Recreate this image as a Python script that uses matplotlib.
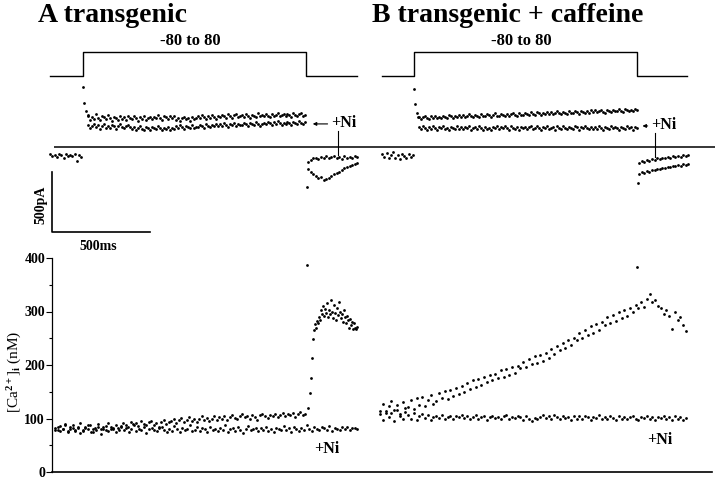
import numpy as np
import matplotlib.pyplot as plt

plt.rcParams['font.family'] = ['Liberation Serif', 'DejaVu Serif']
plt.rcParams['font.weight'] = 'bold'
plt.rcParams['mathtext.fontset'] = 'custom'
plt.rcParams['mathtext.rm'] = 'Liberation Serif'
plt.rcParams['mathtext.it'] = 'Liberation Serif:italic'

# time base shared by all traces (ms); panel B sits to the right of panel A
MS_PER_PX = 500 / 98
PULSE_MS = 1140
B_OFFSET = 1689
SCALE_MS = 500
SCALE_PA = 500

# voltage protocol (mV)
v_levels = [-80, -80, 80, 80, -80, -80]
v_times_a = [-168, 0, 0, PULSE_MS, PULSE_MS, 1398]
v_times_b = [-163, 0, 0, PULSE_MS, PULSE_MS, 1393]

# membrane current (pA), panel A
pre_a = [-58, -75, -66, -83, -62, -71, -88, -55, -79, -67, -74, -62, -117, -70, -80]
onset_t_a = [2, 7, 14, 24]
onset_a = [500, 367, 300, 267]
ctrl_a = [262, 228, 250, 236, 271, 241, 224, 258, 246, 232, 265,
          238, 219, 252, 244, 226, 261, 235, 248, 222, 255, 241,
          230, 257, 244, 218, 249, 236, 262, 227, 240, 253, 233,
          251, 239, 266, 244, 228, 258, 247, 233, 262, 242, 256,
          226, 244, 218, 238, 252, 229, 241, 215, 247, 233, 239,
          255, 238, 266, 249, 232, 260, 244, 270, 251, 237, 258,
          247, 268, 254, 240, 272, 258, 245, 263, 276, 251, 260,
          266, 249, 274, 257, 243, 270, 261, 252, 279, 256, 264,
          255, 271, 262, 248, 277, 259, 268, 283, 254, 265, 272,
          258, 274, 263, 250, 279, 266, 255, 271, 284, 260, 268]
ni_a = [185, 158, 176, 193, 164, 180, 150, 171, 188, 162, 178,
        160, 182, 171, 148, 177, 190, 163, 155, 174, 184, 166,
        150, 168, 142, 161, 175, 153, 145, 164, 158, 139, 170,
        162, 148, 171, 154, 138, 160, 150, 167, 145, 158, 152,
        172, 158, 180, 163, 150, 176, 167, 155, 185, 160, 170,
        168, 186, 174, 160, 190, 178, 165, 182, 171, 194, 176,
        190, 175, 198, 184, 170, 193, 181, 200, 176, 188, 185,
        180, 196, 188, 174, 202, 190, 183, 207, 192, 178, 195,
        203, 188, 210, 196, 182, 205, 193, 214, 199, 186, 201,
        192, 208, 197, 185, 212, 200, 190, 216, 203, 194, 206]
tail_ni_a = [-125, -108, -96, -88, -100, -83, -92, -79, -95, -85,
             -72, -90, -80, -98, -76, -88, -82, -94, -75, -86]
tail_ctrl_a = [-180, -205, -228, -240, -262, -250, -275, -268, -255, -240,
               -228, -215, -205, -190, -178, -170, -158, -150, -142, -135]
tail_peak_a = -333

# membrane current (pA), panel B
pre_b = [-60, -85, -52, -95, -70, -45, -88, -65, -100, -58, -78, -92, -55, -80, -68]
onset_t_b = [2, 7, 14, 22]
onset_b = [483, 358, 283, 250]
ctrl_b = [252, 236, 248, 262, 240, 230, 255, 244, 258, 238, 249,
          245, 262, 250, 238, 266, 254, 243, 259, 248, 270, 253,
          266, 250, 262, 275, 255, 246, 268, 258, 252, 272, 260,
          258, 276, 263, 250, 270, 280, 261, 255, 274, 266, 259,
          278, 262, 273, 286, 266, 258, 281, 270, 264, 284, 272,
          270, 288, 276, 264, 290, 279, 268, 284, 274, 292, 278,
          291, 276, 286, 298, 279, 272, 294, 284, 277, 297, 285,
          284, 300, 289, 278, 303, 292, 282, 298, 287, 306, 291,
          305, 290, 300, 312, 293, 286, 308, 297, 291, 311, 299,
          298, 314, 303, 292, 318, 306, 296, 312, 301, 320, 308]
ni_b = [165, 148, 172, 156, 140, 168, 152, 176, 160, 145, 170,
        155, 174, 150, 162, 138, 167, 158, 146, 178, 153, 164,
        148, 166, 157, 172, 144, 160, 169, 151, 175, 158, 142,
        170, 153, 162, 141, 168, 156, 177, 149, 163, 155, 172,
        158, 145, 174, 161, 150, 167, 143, 170, 157, 165, 152,
        163, 176, 148, 159, 171, 154, 139, 166, 160, 175, 150,
        155, 168, 145, 172, 160, 151, 178, 157, 147, 169, 162,
        149, 171, 163, 140, 166, 155, 174, 158, 146, 170, 153,
        167, 152, 176, 161, 143, 169, 157, 148, 173, 159, 165,
        156, 144, 170, 162, 151, 177, 154, 166, 141, 168, 160]
tail_ni_b = [-130, -118, -125, -110, -115, -102, -108, -95, -100, -88,
             -96, -82, -90, -78, -85, -72, -80, -70, -76, -66]
tail_ctrl_b = [-225, -210, -218, -200, -205, -190, -196, -180, -186, -172,
               -178, -165, -170, -158, -162, -150, -155, -142, -148, -138]
tail_peak_b = -300

# [Ca2+]i (nM), panel A
ca_ctrl_a = [82, 78, 86, 80, 90, 76, 84, 88, 79, 83, 92, 77, 85, 81, 87, 74, 83, 89, 80, 85,
             78, 91, 84, 80, 87, 83,
             86, 92, 88, 84, 94, 89, 91, 86, 95, 90, 87, 93, 96, 88, 91, 85, 94, 98, 90, 93,
             95, 99, 92, 97, 101, 94, 98, 103, 96, 100, 93, 99, 104, 97, 101, 95, 100, 105, 98, 102,
             100, 104, 97, 103, 106, 101, 99, 105, 108, 102, 104, 100, 107, 103, 98, 106, 109, 104, 101, 107,
             105, 109, 103, 107, 111, 104, 108, 106, 110, 103, 108, 112, 106, 109]
ca_ni_a = [79, 84, 76, 81, 87, 74, 80, 83, 77, 85, 72, 79, 82, 88, 75, 80, 78, 84, 71, 81,
           86, 77, 80, 83, 75, 79, 85, 78, 82, 74, 80, 87, 76, 81, 79, 84, 73, 80, 83, 78,
           76, 82, 85, 79, 74, 81, 77, 86, 80, 75, 83, 78, 81, 88, 76, 79, 84, 77, 82, 80,
           74, 85, 78, 81, 76, 83, 79, 87, 75, 80, 82, 77, 84, 79, 73, 81, 86, 78, 80, 83,
           76, 82, 79, 85, 77, 81, 74, 83, 80, 78, 86, 79, 82, 75, 84, 80, 77, 83, 79, 88,
           81, 76, 84, 80, 78, 85, 82, 79, 86, 77, 83, 81, 78, 84, 80, 85, 79, 82, 83, 81]
rise_t_a = [1143, 1148, 1156, 1161, 1166, 1173, 1179, 1184, 1189, 1194, 1199, 1204, 1209, 1214,
            1219, 1224, 1230, 1235, 1240, 1245, 1250, 1255, 1260, 1265, 1270, 1276, 1281, 1286,
            1291, 1296, 1301, 1306, 1311, 1316, 1321, 1327, 1332, 1337, 1342, 1347, 1352, 1357,
            1362, 1367, 1372, 1378, 1383, 1388, 1393, 1398]
rise_a = [387, 120, 148, 175, 213, 248, 265, 276, 270, 282, 279, 290, 284, 302,
          295, 310, 292, 305, 298, 316, 289, 303, 296, 322, 300, 288, 312, 298,
          285, 306, 294, 318, 300, 288, 296, 281, 302, 290, 278, 292, 284, 270,
          286, 275, 281, 268, 279, 270, 268, 271]

# [Ca2+]i (nM), panel B
ca_ctrl_b = [114, 128, 110, 124, 132, 116, 126, 108, 130, 119,
             122, 135, 118, 138, 126, 141, 123, 134, 143, 127,
             132, 147, 138, 151, 136, 154, 142, 157, 145, 160,
             150, 166, 156, 172, 158, 174, 162, 178, 168, 182,
             172, 184, 175, 190, 178, 193, 181, 196, 185, 199,
             194, 206, 197, 212, 201, 216, 204, 219, 208, 222,
             214, 230, 220, 236, 228, 242, 232, 247, 238, 251,
             246, 260, 250, 266, 256, 272, 260, 276, 266, 281,
             274, 289, 279, 294, 283, 299, 288, 303, 292, 307,
             300, 312, 306, 318, 309, 324, 332, 318, 322, 310,
             306, 296, 302, 292, 268, 299, 284, 290, 274, 264]
ca_ni_b = [108, 97, 114, 102, 110, 95, 116, 104, 99, 112,
           106, 100, 110, 97, 104, 108, 101, 106, 98, 103,
           104, 101, 106, 99, 103, 105, 100, 104, 102, 106,
           101, 104, 99, 103, 106, 100, 102, 105, 98, 103,
           105, 101, 103, 99, 104, 106, 100, 103, 101, 105,
           102, 98, 104, 100, 96, 101, 99, 103, 106, 101,
           104, 100, 107, 102, 99, 105, 101, 103, 98, 104,
           100, 104, 99, 105, 102, 97, 103, 101, 106, 100,
           103, 99, 104, 101, 98, 105, 100, 103, 99, 102,
           104, 100, 98, 103, 101, 105, 99, 102, 97, 103,
           101, 104, 99, 102, 98, 104, 100, 103, 97, 101]
spike_t_b = 1138
spike_b = 383

dot = dict(ls='none', marker='o', ms=2.0, mew=0, color='black')

fig = plt.figure(figsize=(7.2, 4.8), dpi=100)

# full-width time range for the top traces
t_full = (-83 * MS_PER_PX, (720 - 83) * MS_PER_PX)

# voltage protocol
axv = fig.add_axes([0, 390 / 480, 1, 55 / 480])
axv.set_xlim(t_full)
axv.set_ylim(-173, 193)
axv.axis('off')
for off, vt in [(0, v_times_a), (B_OFFSET, v_times_b)]:
    axv.plot(np.array(vt) + off, v_levels, color='black', lw=1.0)
    axv.annotate('-80 to 80', (545 + off, 80), xytext=(0, 2), textcoords='offset points',
                 ha='center', va='bottom', fontsize=12)

# membrane current
axi = fig.add_axes([0, 220 / 480, 1, 180 / 480])
axi.set_xlim(t_full)
axi.set_ylim(-942, 558)
axi.axis('off')
axi.hlines(0, -148, 3224, color='black', lw=1.1)

t_pulse = np.linspace(25, 1135, len(ctrl_a))
t_tail = np.linspace(1148, 1400, len(tail_ni_a))
for off, pre, pre_t, ot, ov, c, n, tn, tc, tp in [
        (0, pre_a, (-168, -8), onset_t_a, onset_a, ctrl_a, ni_a, tail_ni_a, tail_ctrl_a, tail_peak_a),
        (B_OFFSET, pre_b, (-163, -5), onset_t_b, onset_b, ctrl_b, ni_b, tail_ni_b, tail_ctrl_b, tail_peak_b)]:
    axi.plot(np.linspace(pre_t[0], pre_t[1], len(pre)) + off, pre, **dot)
    axi.plot(np.array(ot) + off, ov, **dot)
    axi.plot(t_pulse + off, c, **dot)
    axi.plot(t_pulse + off, n, **dot)
    axi.plot(t_tail + off, tn, **dot)
    axi.plot(t_tail + off, tc, **dot)
    axi.plot([1143 + off], [tp], **dot)

# +Ni labels on the current traces
axi.annotate('', xy=(1158, 192), xytext=(1262, 192),
             arrowprops=dict(arrowstyle='-|>', color='black', lw=0.8, mutation_scale=5))
axi.text(1265, 165, '+Ni', fontsize=11.5, ha='left', va='baseline')
axi.plot([1301, 1301], [133, -67], color='black', lw=0.8)
axi.annotate('', xy=(2840, 175), xytext=(2895, 175),
             arrowprops=dict(arrowstyle='-|>', color='black', lw=0.8, mutation_scale=5))
axi.text(2898, 150, '+Ni', fontsize=11.5, ha='left', va='baseline')
axi.plot([2918, 2918], [117, -83], color='black', lw=0.8)

# scale bar
x0, y0 = -158, -708
axi.plot([x0, x0, x0 + SCALE_MS], [y0 + SCALE_PA, y0, y0], color='black', lw=1.2)
axi.text(-214, y0 + SCALE_PA * 0.45, '500pA', rotation=90, ha='center', va='center', fontsize=10)
axi.text(x0 + SCALE_MS * 0.47, y0 - 125, '500ms', ha='center', va='center', fontsize=10)

# [Ca2+]i
axc = fig.add_axes([52 / 720, 8 / 480, 660 / 720, 214 / 480])
axc.set_xlim((52 - 83) * MS_PER_PX, (712 - 83) * MS_PER_PX)
axc.set_ylim(0, 400)
axc.plot(np.linspace(-143, 1135, len(ca_ctrl_a)), ca_ctrl_a, **dot)
axc.plot(np.linspace(-143, 1400, len(ca_ni_a)), ca_ni_a, **dot)
axc.plot(rise_t_a, rise_a, **dot)
t_b = np.linspace(-173, 1388, len(ca_ctrl_b)) + B_OFFSET
axc.plot(t_b, ca_ctrl_b, **dot)
axc.plot(t_b, ca_ni_b, **dot)
axc.plot([spike_t_b + B_OFFSET], [spike_b], **dot)
axc.text(1245, 43, '+Ni', fontsize=11.5, ha='center', va='center')
axc.text(1245 + B_OFFSET + 10, 60, '+Ni', fontsize=11.5, ha='center', va='center')

for s in ['top', 'right']:
    axc.spines[s].set_visible(False)
axc.spines['left'].set_linewidth(0.9)
axc.spines['bottom'].set_linewidth(1.2)
axc.set_xticks([])
axc.set_yticks([0, 100, 200, 300, 400])
axc.set_yticks([50, 150, 250, 350], minor=True)
axc.tick_params(axis='y', which='major', length=4, width=0.8, pad=1, labelsize=10)
axc.tick_params(axis='y', which='minor', length=2.5, width=0.8)
axc.set_ylabel(r'[Ca$^{\mathrm{2+}}$]$_{\mathrm{i}}$ (nM)', fontsize=11, fontweight='normal')
axc.yaxis.set_label_coords(-0.043, 0.467)

# panel titles
fig.text(38 / 720, 1 - 22 / 480, 'A transgenic', fontsize=20, va='baseline')
fig.text(372 / 720, 1 - 22 / 480, 'B transgenic + caffeine', fontsize=20, va='baseline')

fig.savefig('out.png', dpi=100)
